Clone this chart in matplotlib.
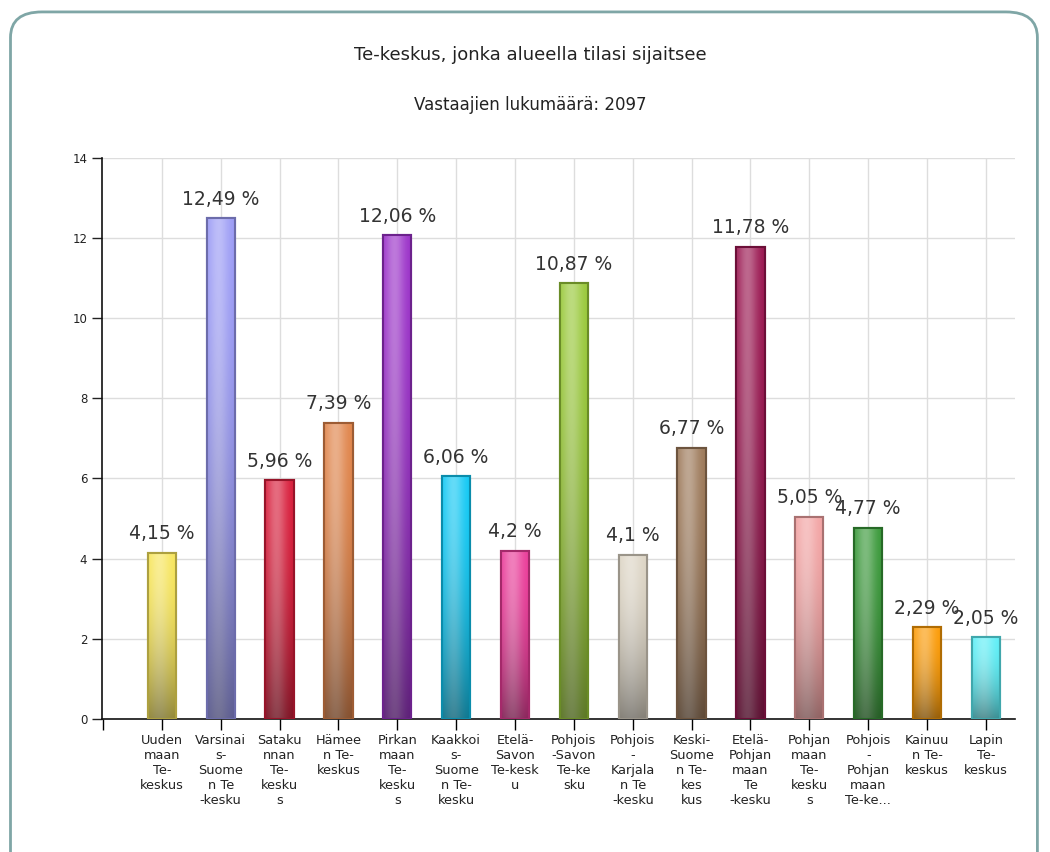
import numpy as np
import matplotlib.pyplot as plt
from matplotlib.patches import FancyBboxPatch
from matplotlib.colors import to_rgb

title = "Te-keskus, jonka alueella tilasi sijaitsee"
subtitle = "Vastaajien lukumäärä: 2097"

labels = [
    "Uuden\nmaan\nTe-\nkeskus",
    "Varsinai\ns-\nSuome\nn Te\n-kesku",
    "Sataku\nnnan\nTe-\nkesku\ns",
    "Hämee\nn Te-\nkeskus",
    "Pirkan\nmaan\nTe-\nkesku\ns",
    "Kaakkoi\ns-\nSuome\nn Te-\nkesku",
    "Etelä-\nSavon\nTe-kesk\nu",
    "Pohjois\n-Savon\nTe-ke\nsku",
    "Pohjois\n-\nKarjala\nn Te\n-kesku",
    "Keski-\nSuome\nn Te-\nkes\nkus",
    "Etelä-\nPohjan\nmaan\nTe\n-kesku",
    "Pohjan\nmaan\nTe-\nkesku\ns",
    "Pohjois\n-\nPohjan\nmaan\nTe-ke...",
    "Kainuu\nn Te-\nkeskus",
    "Lapin\nTe-\nkeskus",
]
values = [4.15, 12.49, 5.96, 7.39, 12.06, 6.06, 4.2, 10.87, 4.1, 6.77, 11.78, 5.05, 4.77, 2.29, 2.05]
value_text = ["4,15 %", "12,49 %", "5,96 %", "7,39 %", "12,06 %", "6,06 %", "4,2 %", "10,87 %",
              "4,1 %", "6,77 %", "11,78 %", "5,05 %", "4,77 %", "2,29 %", "2,05 %"]
colors = ["#f7e55a", "#9a9af5", "#d81c3a", "#e0844a", "#9a30c8", "#10c8f4", "#ea3a98", "#98c838",
          "#dcd4c4", "#9c7858", "#9a1650", "#f2a2a2", "#389838", "#fc9a04", "#5ceef6"]


def shade(c, f):
    r, g, b = to_rgb(c)
    return (r * f, g * f, b * f)


fig = plt.figure(figsize=(10.5, 8.52), dpi=100)
fig.patch.set_facecolor("white")

# rounded frame
frame = FancyBboxPatch((0.010, -0.05), 0.978, 1.036, boxstyle="round,pad=0,rounding_size=0.03",
                       transform=fig.transFigure, facecolor="white", edgecolor="#7fa6a6",
                       linewidth=2, zorder=-10)
fig.patches.append(frame)

fig.text(0.505, 0.935, title, ha="center", va="center", fontsize=13, color="#222222")
fig.text(0.505, 0.877, subtitle, ha="center", va="center", fontsize=12, color="#222222")

ax = fig.add_axes([0.097, 0.156, 0.870, 0.659])
x = np.arange(len(values))
w = 0.48

bars = ax.bar(x, values, width=w, color=colors, edgecolor=[shade(c, 0.7) for c in colors],
              linewidth=1.5, zorder=3)

# glossy gradient overlay for each bar
nx, ny = 40, 100
hx = np.linspace(0, 1, nx)
hy = np.linspace(0, 1, ny)[:, None]
for b, c in zip(bars, colors):
    base = np.array(to_rgb(c))
    light = 0.35 * np.exp(-((hx - 0.4) / 0.35) ** 2)
    dark = 0.4 * (1 - hy) ** 2
    img = np.ones((ny, nx, 3)) * base
    img = img + (1 - img) * light[None, :, None]
    img = img * (1 - dark[:, :, None])
    x0, y0 = b.get_x(), b.get_y()
    im = ax.imshow(np.clip(img, 0, 1), extent=[x0, x0 + b.get_width(), y0, y0 + b.get_height()],
                   origin="lower", aspect="auto", zorder=3.5, interpolation="bilinear")
    im.set_clip_path(b)
    ax.add_patch(plt.Rectangle((x0, y0), b.get_width(), b.get_height(), fill=False,
                               edgecolor=shade(c, 0.7), linewidth=1.5, zorder=4))

for xi, v, t in zip(x, values, value_text):
    ax.text(xi, v + 0.47, t, ha="center", va="center", fontsize=13.5, color="#333333", zorder=5)

ax.set_xlim(-1.02, 14.5)
ax.set_ylim(0, 14)
ax.set_yticks(np.arange(0, 15, 2))
ax.set_xticks(x)
ax.set_xticks([-1.0], minor=True)
ax.set_xticklabels(labels, fontsize=9.3, linespacing=1.2, va="top", color="#222222")
ax.tick_params(axis="y", labelsize=8.5, length=7, width=1, colors="#222222")
ax.tick_params(axis="x", which="both", length=8, width=1, pad=3)
ax.grid(True, which="major", color="#dddddd", linewidth=1, zorder=0)
ax.set_axisbelow(True)
for s in ["top", "right"]:
    ax.spines[s].set_visible(False)
for s in ["left", "bottom"]:
    ax.spines[s].set_color("#111111")
    ax.spines[s].set_linewidth(1.2)

fig.savefig("out.png", dpi=100, facecolor="white")
